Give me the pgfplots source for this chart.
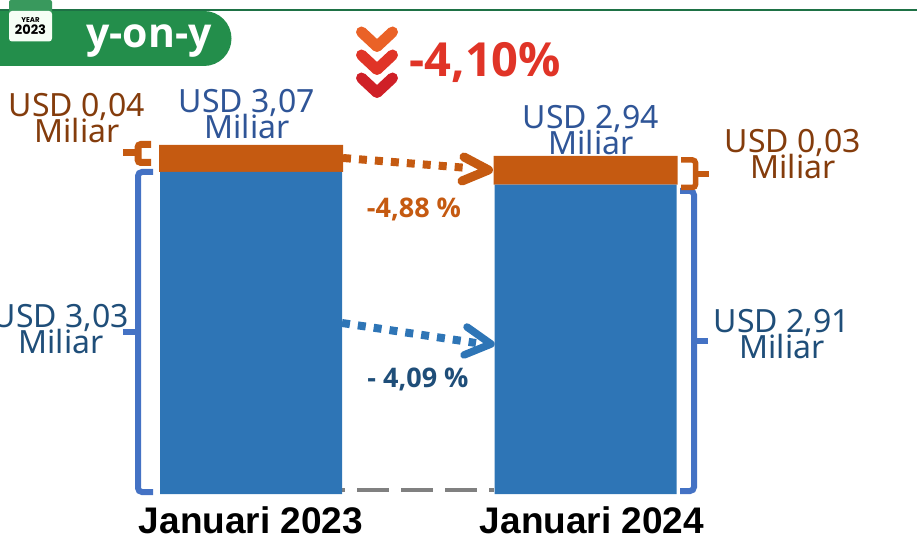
\documentclass[border=0pt]{standalone}
\usepackage{pgfplots}
\pgfplotsset{compat=1.18}
\usepackage{fontspec}
\setmainfont{Noto Sans}
\newfontfamily\bfont{Open Sans}
\newfontfamily\arialf{Liberation Sans}
\newfontfamily\popf{Poppins}
\definecolor{barblue}{HTML}{2E75B6}
\definecolor{barorange}{HTML}{C55A11}
\definecolor{brblue}{HTML}{4472C4}
\definecolor{lblbrown}{HTML}{843C0C}
\definecolor{lblblue}{HTML}{2F5597}
\definecolor{lbldblue}{HTML}{1F4E79}
\definecolor{pill}{HTML}{238E4B}
\definecolor{rulegreen}{HTML}{1E7145}
\newcommand{\tight}{\lineskiplimit-30pt\relax}
\begin{document}
\begin{tikzpicture}[x=1pt,y=1pt]
\path[use as bounding box] (0,0) rectangle (917,543);
\begin{scope}[shift={(0,543)},y=-1pt,x=1pt]
\draw[gray,line width=4pt,dash pattern=on 32pt off 12pt,dash phase=29pt] (342,490) -- (494,490);
\end{scope}
\begin{axis}[
  at={(0,49pt)},anchor=south west,
  scale only axis,width=917pt,height=494pt,
  xmin=-0.7504,xmax=1.9910,ymin=0,ymax=4.647,
  ybar stacked,bar width=182pt,
  axis line style={draw=none},
  tick style={draw=none},
  ytick=\empty,
  xtick={0,1},
  xticklabels={Januari 2023,\hspace*{13pt}Januari 2024},
  xticklabel style={font=\arialf\bfseries\fontsize{37}{39}\selectfont,text=black,yshift=-9pt},
  clip=false,
]
\addplot[fill=barblue,draw=none] coordinates {(0,3.03) (1,2.91)};
\addplot[fill=barorange,draw=none,bar width=184pt] coordinates {(0,0.253) (1,0.27)};
\end{axis}
\begin{scope}[shift={(0,543)},y=-1pt,x=1pt]
% top band
\fill[pill] (0,11) -- (204,11) arc[start angle=90,end angle=-90,x radius=27.5,y radius=-27.5] -- (0,66) -- cycle;
\draw[rulegreen,line width=2pt] (0,10.5) -- (917,10.5);
\fill[pill!90!white,rounded corners=2pt] (9,0) rectangle (52,14);
\fill[fill=black!6!green!4!white,rounded corners=3pt] (9,11) rectangle (52,41.5);
\node[font=\popf\bfseries\fontsize{7}{8}\selectfont,text=black] at (30.5,20) {YEAR};
\node[font=\popf\bfseries\fontsize{13}{14}\selectfont,text=black] at (30.5,30) {2023};
\node[font=\bfont\bfseries\fontsize{41}{44}\selectfont,text=white,anchor=center] at (149,41) {y-on-y};
% chevrons
\foreach \o/\c in {0/EA6227,23/E03427,46/CF2027}{
  \definecolor{cc}{HTML}{\c}
  \draw[cc,line width=11pt,line cap=round,line join=round,yshift=\o*-1pt]
    (361.5,32) -- (377,46.5) -- (392.5,32);
}
\node[font=\bfont\bfseries\fontsize{47}{49}\selectfont,text={rgb,255:red,224;green,52;blue,39},anchor=west] at (406,62) {-4,10\%};
% labels
\newcommand{\lab}[4]{\node[text=#1,align=center,inner sep=0pt,font=\fontsize{32}{26}\selectfont\tight] at (#2,#3) {#4\\Miliar};}
\lab{lblbrown}{77}{118}{USD 0,04}
\lab{lblblue}{247}{114}{USD 3,07}
\lab{lblblue}{591}{130}{USD 2,94}
\lab{lblbrown}{793}{154}{USD 0,03}
\lab{lbldblue}{61}{329}{USD 3,03}
\lab{lbldblue}{782}{334}{USD 2,91}
\node[font=\bfont\bfseries\fontsize{27}{29}\selectfont,text=barorange] at (414,209) {-4,88 \%};
\node[font=\bfont\bfseries\fontsize{27}{29}\selectfont,text=lbldblue] at (418,379) {- 4,09 \%};
% arrows
\draw[barorange,line width=8pt,dash pattern=on 8pt off 8pt] (343,158) -- (468,168);
\draw[barorange,line width=9pt,line cap=round,line join=round] (464,157) -- (488.5,170) -- (462,181);
\draw[barblue,line width=8pt,dash pattern=on 8pt off 8pt] (342,323) -- (476,343);
\draw[barblue,line width=7.5pt,line cap=round,line join=round] (467,327) -- (491,344) -- (464,355);
% brackets
\draw[barorange,line width=7pt,rounded corners=3pt] (151,144.5) -- (138,144.5) -- (138,162.5) -- (151,162.5);
\draw[barorange,line width=7pt] (123,153) -- (138,153);
\draw[brblue,line width=6pt,rounded corners=4pt] (153,172) -- (138,172) -- (138,492) -- (153,492);
\draw[brblue,line width=6pt] (123,332) -- (138,332);
\draw[brblue,line width=6pt,rounded corners=4pt] (680,191) -- (694,191) -- (694,491) -- (680,491);
\draw[brblue,line width=6pt] (694,341) -- (708,341);
\draw[barorange,line width=5.5pt,rounded corners=3pt] (681,160) -- (695.5,160) -- (695.5,187.5) -- (681,187.5);
\draw[barorange,line width=5.5pt] (695.5,174) -- (709,174);
\end{scope}
\end{tikzpicture}
\end{document}
